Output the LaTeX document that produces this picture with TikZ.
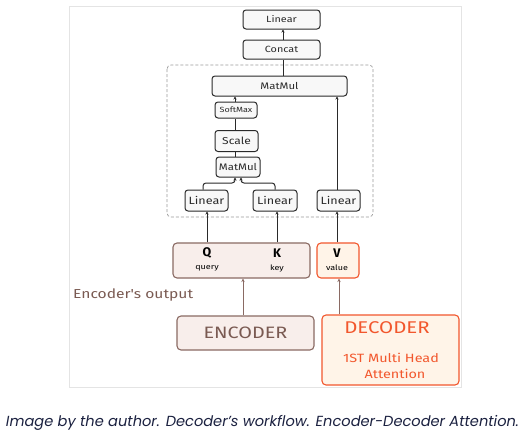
\documentclass[tikz,border=0pt]{standalone}
\usepackage{fontspec}
\setmainfont{Fira Sans}
\newfontfamily\handfont[FakeStretch=1.2]{Fira Sans}
\newfontfamily\capfont{Poppins}
\usetikzlibrary{arrows.meta,calc}
\definecolor{boxdraw}{HTML}{2A2A2A}
\definecolor{boxfill}{HTML}{F8F8F8}
\definecolor{encdraw}{HTML}{8A6A63}
\definecolor{encfill}{HTML}{F8EEEB}
\definecolor{enctext}{HTML}{7A5A52}
\definecolor{decdraw}{HTML}{F2572D}
\definecolor{decfill}{HTML}{FFF4E8}
\definecolor{frame}{HTML}{E4E4E4}
\definecolor{captext}{HTML}{1B2140}
\newcommand{\fs}[1]{\handfont\fontsize{#1}{#1}\selectfont}
\tikzset{
  blk/.style={draw=boxdraw, fill=boxfill, line width=1pt, rounded corners=3pt, inner sep=0pt, font=\fs{9}, text=boxdraw},
  encblk/.style={draw=encdraw, fill=encfill, line width=1.1pt, rounded corners=4pt, inner sep=0pt, text=enctext},
  decblk/.style={draw=decdraw, fill=decfill, line width=1.1pt, rounded corners=4pt, inner sep=0pt, text=decdraw},
  arr/.style={draw=boxdraw, line width=1pt, -{Stealth[length=3pt,width=3pt]}},
  ln/.style={draw=boxdraw, line width=1pt},
  encarr/.style={draw=encdraw, line width=0.8pt, -{Stealth[length=3.5pt,width=3.5pt]}},
  lbl/.style={inner sep=0pt}
}
\begin{document}
\begin{tikzpicture}[x=1pt,y=-1pt]
\useasboundingbox (0,0) rectangle (531,439);
\fill[white] (0,0) rectangle (531,439);
\draw[frame, line width=1pt] (69,6) rectangle (461,387);
\draw[gray!80, densely dashed, line width=0.7pt, rounded corners=4pt] (167,65) rectangle (373,217);
% top column
\node[blk, minimum width=77pt, minimum height=19pt] (lin4) at (281.5,19.5) {Linear};
\node[blk, minimum width=77pt, minimum height=19pt] (concat) at (281.5,49.5) {Concat};
\node[blk, minimum width=135pt, minimum height=20pt, font=\fs{9.5}] (mm2) at (279.5,86) {MatMul};
\node[blk, minimum width=42pt, minimum height=16pt, font=\fs{7.5}] (soft) at (236,110) {SoftMax};
\node[blk, minimum width=43pt, minimum height=21pt, font=\fs{10}] (scale) at (236.5,141) {Scale};
\node[blk, minimum width=44pt, minimum height=20pt, font=\fs{9.5}] (mm1) at (238,167) {MatMul};
\node[blk, minimum width=43pt, minimum height=21pt, font=\fs{10.5}] (linq) at (206.5,200.5) {Linear};
\node[blk, minimum width=44pt, minimum height=21pt, font=\fs{10.5}] (link) at (275,200.5) {Linear};
\node[blk, minimum width=43pt, minimum height=21pt, font=\fs{10.5}] (linv) at (338.5,200.5) {Linear};
% inputs
\node[encblk, minimum width=137pt, minimum height=35pt] (qk) at (241.5,260.5) {};
\node[decblk, minimum width=42pt, minimum height=35pt] (vbox) at (338,260.5) {};
\node[lbl, font=\bfseries\fontsize{12.5}{12}\selectfont, text=black] (q) at (207,253) {Q};
\node[lbl, font=\fs{7.5}, text=black] (ql) at (207,268) {query};
\node[lbl, font=\bfseries\fontsize{12.5}{12}\selectfont, text=black] (k) at (277,253) {K};
\node[lbl, font=\fs{7.5}, text=black] (kl) at (277,268) {key};
\node[lbl, font=\bfseries\fontsize{12.5}{12}\selectfont, text=black] (v) at (337,253) {V};
\node[lbl, font=\fs{7.5}, text=black] (vl) at (337,268) {value};
\node[lbl, anchor=west, font=\fs{13}, text=enctext] (eo) at (73,295) {Encoder's output};
\node[encblk, minimum width=137pt, minimum height=34pt, font=\fs{16.5}] (enc) at (245.5,333) {ENCODER};
\node[decblk, minimum width=137pt, minimum height=70pt] (dec) at (390.5,350) {};
\node[lbl, font=\fs{17}, text=decdraw] (dect) at (387,328) {DECODER};
\node[lbl, font=\fs{12}, text=decdraw] (dec1) at (391,358) {1ST Multi Head};
\node[lbl, font=\fs{12}, text=decdraw] (dec2) at (395,374) {Attention};
% connectors
\draw[arr] (concat.north -| 283,0) -- (lin4.south -| 283,0);
\draw[ln] (mm2.north -| 283,0) -- (concat.south -| 283,0);
\draw[arr] (soft.north -| 235,0) -- (mm2.south -| 235,0);
\draw[ln] (scale.north -| 235,0) -- (soft.south -| 235,0);
\draw[ln] (mm1.north -| 235,0) -- (scale.south -| 235,0);
\draw[arr, rounded corners=3pt] (linq.north -| 203,0) -- (203,183) -- (235,183) -- (mm1.south -| 235,0);
\draw[arr, rounded corners=3pt] (link.north -| 275,0) -- (275,183) -- (241,183) -- (mm1.south -| 241,0);
\draw[arr] (linv.north -| 337,0) -- (mm2.south -| 337,0);
\draw[arr] (qk.north -| 207,0) -- (linq.south -| 207,0);
\draw[arr] (qk.north -| 277,0) -- (link.south -| 277,0);
\draw[arr] (vbox.north -| 337,0) -- (linv.south -| 337,0);
\draw[encarr] (enc.north -| 243,0) -- (qk.south -| 243,0);
\draw[encarr] (dec.north -| 339,0) -- (vbox.south -| 339,0);
% caption
\node[lbl, font=\capfont\itshape\fontsize{14.6}{16}\selectfont, text=captext] (cap) at (262.5,423) {Image by the author. Decoder’s workflow. Encoder-Decoder Attention.};
\end{tikzpicture}
\end{document}
